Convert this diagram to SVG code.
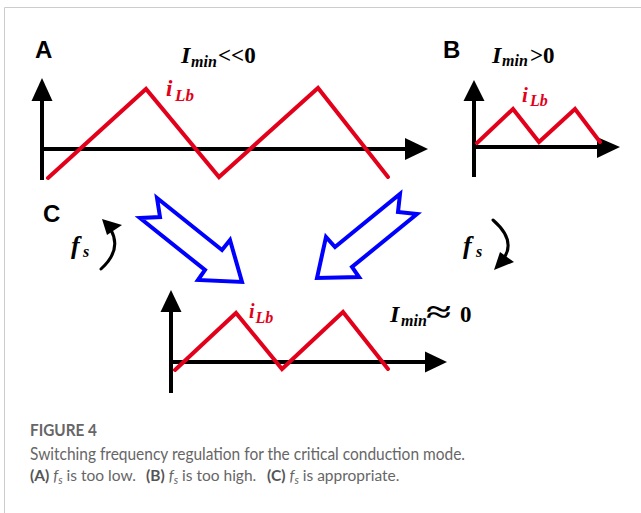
<svg xmlns="http://www.w3.org/2000/svg" width="641" height="513" viewBox="0 0 641 513">
<style>
.frame{stroke:#cccccc;stroke-width:1;fill:none}
.axis{stroke:#000;stroke-width:4;fill:none}
.head{fill:#000}
.wave{stroke:#e2001a;stroke-width:4;fill:none;stroke-linejoin:miter;stroke-linecap:round}
.blk{stroke:#0000ff;stroke-width:4;fill:none;stroke-linejoin:miter}
.curve{stroke:#000;stroke-width:3;fill:none;stroke-linecap:round}
.lbl{font-family:"Liberation Sans",Arial,sans-serif;font-weight:bold;font-size:24px;fill:#000}
.math{font-family:"Liberation Serif","Times New Roman",serif;font-weight:bold;font-style:italic;fill:#000}
.up{font-style:normal}
.red{fill:#e2001a}
.cap{font-family:Lato,"Open Sans",sans-serif;font-size:17px;fill:#666}
.cap3{font-family:Lato,"Open Sans",sans-serif;font-size:15.5px;fill:#666}
.b{font-weight:bold;fill:#555}
</style>
<path class="frame" d="M4.5,513 V7.5 H641"/>

<g id="panelA">
  <text class="lbl" x="35" y="58">A</text>
  <line class="axis" x1="42" y1="180" x2="42" y2="98"/>
  <polygon class="head" points="42,78 52.5,101 31.5,101"/>
  <line class="axis" x1="40" y1="149" x2="407" y2="149"/>
  <polygon class="head" points="428,149 405,138 405,160"/>
  <polyline class="wave" points="48,178 146,89 219,177 318,88 388,177"/>
  <text class="math red" x="166" y="96" font-size="23">i</text>
  <text class="math red" x="175" y="101" font-size="17">Lb</text>
  <text class="math" x="181" y="63" font-size="24">I</text>
  <text class="math" x="191" y="67" font-size="16">min</text>
  <text class="math up" x="218" y="63" font-size="23">&lt;&lt;0</text>
</g>

<g id="panelB">
  <text class="lbl" x="443" y="58">B</text>
  <line class="axis" x1="474" y1="177" x2="474" y2="98"/>
  <polygon class="head" points="474,80 484.5,101 463.5,101"/>
  <line class="axis" x1="474" y1="147" x2="599" y2="147"/>
  <polygon class="head" points="620,147 597,137 597,158"/>
  <polyline class="wave" points="477,143 513,109 539,142 575,109 600,142"/>
  <text class="math red" x="522" y="101.5" font-size="21">i</text>
  <text class="math red" x="530" y="106" font-size="16">Lb</text>
  <text class="math" x="492" y="63" font-size="24">I</text>
  <text class="math" x="502" y="66" font-size="16">min</text>
  <text class="math up" x="530" y="63" font-size="23">&gt;0</text>
</g>

<g id="panelC">
  <text class="lbl" x="43" y="222">C</text>
  <line class="axis" x1="171" y1="393" x2="171" y2="310"/>
  <polygon class="head" points="171,290 181.5,312 160.5,312"/>
  <line class="axis" x1="171" y1="362" x2="427" y2="362"/>
  <polygon class="head" points="447,362 425,351.5 425,372.5"/>
  <polyline class="wave" points="175,370 236,313 282,369 343,312 388,369"/>
  <text class="math red" x="249" y="318" font-size="20">i</text>
  <text class="math red" x="255.5" y="323" font-size="16">Lb</text>
  <text class="math" x="390" y="321.5" font-size="24">I</text>
  <text class="math" x="401" y="325.5" font-size="16">min</text>
  <text class="math up" x="426" y="321.5" font-size="30" textLength="25" lengthAdjust="spacingAndGlyphs">≈</text>
  <text class="math up" x="460" y="321.5" font-size="23">0</text>
</g>

<g id="connectors">
  <polygon class="blk" points="157,198 160,217 140,218 205,270 198,280 242,282 230,240 222,250"/>
  <polygon class="blk" points="400,194 398,212 417,214 352,267 359,277 317,278 326,237 335,247"/>
  <path class="curve" d="M101,269 Q122,250 111,230"/>
  <polygon class="head" points="102,219 122,225 107,235"/>
  <text class="math" x="71" y="254" font-size="26">f</text>
  <text class="math" x="83" y="257" font-size="16">s</text>
  <path class="curve" d="M493,220 Q516,240 504,258"/>
  <polygon class="head" points="494,270 514,262 500,252"/>
  <text class="math" x="463" y="254" font-size="26">f</text>
  <text class="math" x="476" y="257" font-size="16">s</text>
</g>

<g id="caption">
  <text class="cap" x="30" y="436" textLength="67" lengthAdjust="spacingAndGlyphs" style="font-weight:bold;fill:#666">FIGURE 4</text>
  <text class="cap" x="30" y="460" textLength="435" lengthAdjust="spacingAndGlyphs">Switching frequency regulation for the critical conduction mode.</text>
  <text class="cap3" x="30" y="481"><tspan class="b">(A)</tspan> <tspan font-style="italic">f</tspan><tspan font-style="italic" font-size="11" dy="3">s</tspan><tspan dy="-3"> is too low.</tspan></text>
  <text class="cap3" x="146" y="481"><tspan class="b">(B)</tspan> <tspan font-style="italic">f</tspan><tspan font-style="italic" font-size="11" dy="3">s</tspan><tspan dy="-3"> is too high.</tspan></text>
  <text class="cap3" x="267" y="481"><tspan class="b">(C)</tspan> <tspan font-style="italic">f</tspan><tspan font-style="italic" font-size="11" dy="3">s</tspan><tspan dy="-3"> is appropriate.</tspan></text>
</g>
</svg>
